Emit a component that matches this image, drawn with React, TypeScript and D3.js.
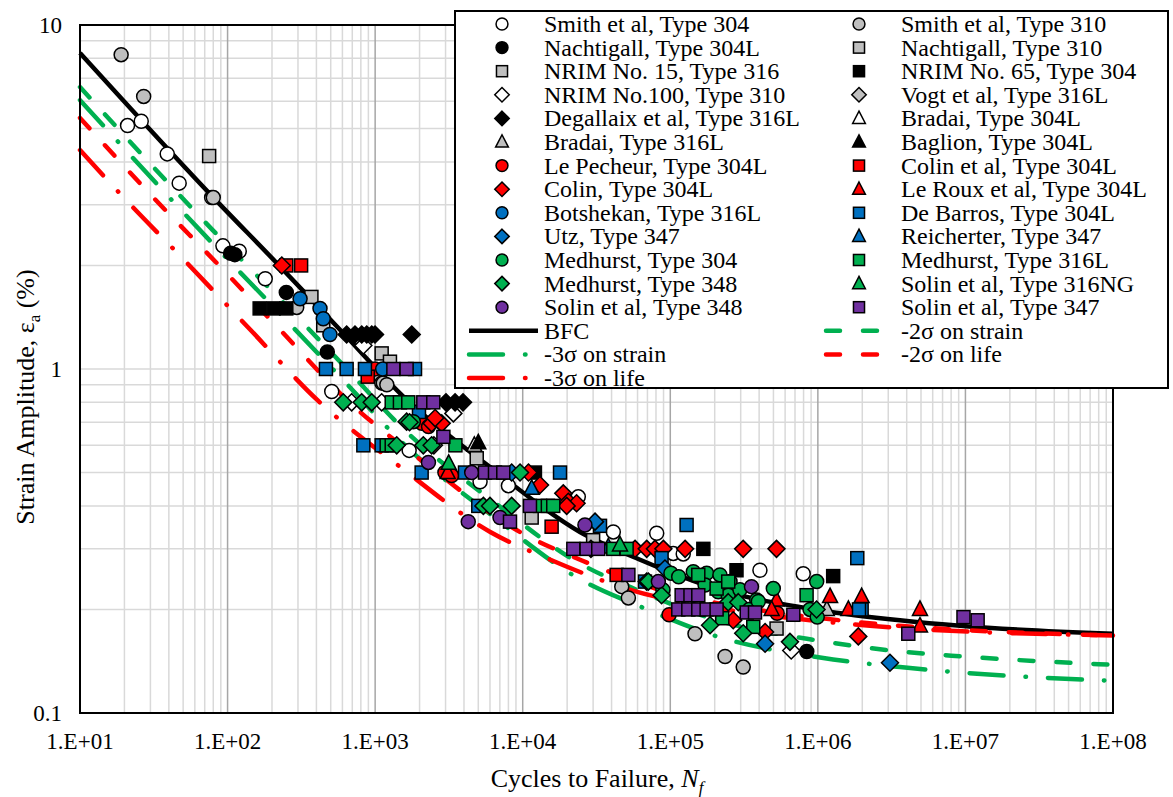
import React from 'react';
import * as d3 from 'd3';

// ---------- axis ticks ----------
const xTickValues = [1e1, 1e2, 1e3, 1e4, 1e5, 1e6, 1e7, 1e8];
const xTickLabels = ['1.E+01', '1.E+02', '1.E+03', '1.E+04', '1.E+05', '1.E+06', '1.E+07', '1.E+08'];
const yTickValues = [0.1, 1, 10];
const yTickLabels = ['0.1', '1', '10'];

// ---------- curves (N, strain %) ----------
const bfcN = [10, 79.6, 216, 578, 1640, 6000, 24400, 62400, 217000, 1035000, 3600000, 9600000, 1e8];
const bfcE = [8.29, 3.16, 2.03, 1.30, 0.813, 0.519, 0.336, 0.279, 0.228, 0.199, 0.186, 0.179, 0.170];
const sig2StrainE = [6.60, 2.53, 1.63, 1.05, 0.655, 0.419, 0.272, 0.226, 0.185, 0.162, 0.151, 0.146, 0.138];
const sig3StrainE = [6.05, 2.31, 1.48, 0.95, 0.593, 0.379, 0.245, 0.204, 0.166, 0.145, 0.136, 0.131, 0.124];
const sig2LifeN = [10, 31.2, 84.7, 227, 643, 2353, 9570, 24470, 85100, 406000, 1410000, 3760000, 1e8];
const sig2LifeE = [5.37, 3.16, 2.03, 1.30, 0.813, 0.519, 0.336, 0.279, 0.228, 0.199, 0.186, 0.179, 0.168];
const sig3LifeN = [10, 19.65, 53.3, 142.7, 405, 1481, 6025, 15400, 53580, 255600, 889000, 2370000, 1e8];
const sig3LifeE = [4.33, 3.16, 2.03, 1.30, 0.813, 0.519, 0.336, 0.279, 0.228, 0.199, 0.186, 0.179, 0.168];

// ---------- data series [N, strain %] ----------
const smith304 = [[21,5.1],[26,5.25],[39,4.22],[47,3.47],[78,3.15],[93,2.28],[120,2.2],[180,1.83],[508,0.86],[1110,0.91],[1700,0.58],[5140,0.47],[8000,0.458],[23800,0.425],[41100,0.336],[80900,0.333],[104700,0.291],[122400,0.29],[405000,0.26],[796000,0.254]];
const smith310 = [[19,8.2],[27,6.2],[80,3.15],[294,1.51],[1135,0.91],[1200,0.9],[46900,0.233],[52000,0.216],[147000,0.17],[235000,0.146],[312000,0.136]];
const nachtigall304L = [[105,2.17],[112,2.15],[250,1.67],[474,1.12],[841000,0.151]];
const nachtigall310 = [[75,4.16],[370,1.62],[445,1.34],[1107,1.11],[1260,1.05]];
const nrim15 = [[4880,0.55],[11500,0.37],[30000,0.318],[525000,0.176]];
const nrim65 = [[165,1.5],[205,1.5],[250,1.5],[12100,0.5],[167500,0.3],[281000,0.26],[1270000,0.25]];
const nrim100 = [[832,1.17],[693,0.8],[1107,0.8],[3390,0.743],[660000,0.152]];
const vogt316L = [[2500,0.6],[29000,0.3]];
const degallaix = [[641,1.26],[730,1.26],[811,1.26],[877,1.26],[948,1.26],[998,1.26],[1770,1.26],[3020,0.8],[3480,0.8],[3940,0.8]];
const bradai304L = [[4700,0.6]];
const bradai316L = [[1150000,0.2]];
const baglion = [[5000,0.61]];
const lePecheur = [[998,1.0],[2070,0.695],[2300,0.68],[2970,0.5],[3300,0.49],[98200,0.193],[530000,0.195]];
const colinEtAl = [[250,2.0],[315,2.0],[891,0.95],[15700,0.348],[43300,0.252]];
const colin = [[233,2.0],[2415,0.695],[2825,0.695],[2550,0.72],[10940,0.5],[13100,0.46],[18830,0.435],[20370,0.411],[23170,0.407],[19860,0.4],[57700,0.3],[69200,0.3],[78700,0.3],[89800,0.3],[126000,0.3],[311800,0.3],[524500,0.3],[1880000,0.167],[267000,0.186],[439000,0.172]];
const leRoux = [[1210000,0.218],[1980000,0.218],[1610000,0.2],[4920000,0.2],[4920000,0.179],[525000,0.213],[486000,0.2],[3100,0.5]];
const botshekan = [[310,1.6],[423,1.5],[445,1.4],[494,1.26],[1125,1.0]];
const deBarros = [[464,1.0],[641,1.0],[853,1.0],[1863,1.0],[832,0.6],[1107,0.6],[1982,0.75],[2066,0.5],[4063,0.5],[5000,0.4],[17900,0.5],[33400,0.35],[87300,0.282],[129000,0.352],[67400,0.241],[1850000,0.282],[1980000,0.2],[1900000,0.2]];
const utz = [[8415,0.5],[30900,0.36],[92000,0.263],[439000,0.159],[3080000,0.14]];
const reicherter = [[11500,0.45],[38000,0.304]];
const medhurst304 = [[1815,0.703],[101000,0.255],[114000,0.249],[143200,0.2575],[176500,0.2547],[217000,0.252],[254000,0.241],[211500,0.225],[247000,0.22],[296500,0.228],[385000,0.213],[499000,0.23],[982000,0.241],[885000,0.2],[340000,0.2],[172000,0.2355],[395000,0.211],[990000,0.19],[89100,0.228]];
const medhurst316L = [[1295,0.8],[1472,0.8],[1677,0.8],[1197,0.6],[1295,0.6],[3500,0.6],[13100,0.4],[14800,0.4],[16100,0.4],[41100,0.3],[50600,0.3],[154800,0.252],[206000,0.23],[247000,0.241],[365000,0.178],[839000,0.22],[225000,0.1886]];
const medhurst348 = [[608,0.8],[811,0.8],[948,0.8],[1634,0.703],[1710,0.7],[1400,0.6],[2120,0.6],[2415,0.6],[5412,0.4],[6000,0.4],[8415,0.4],[9590,0.5],[69200,0.241],[71000,0.241],[87300,0.22],[186000,0.18],[247000,0.21],[289000,0.21],[312000,0.1705],[647000,0.161],[980000,0.2]];
const solin316NG = [[3150,0.532],[45600,0.308]];
const solin348 = [[2297,0.535],[4510,0.5],[4275,0.36],[7015,0.37],[26400,0.352],[83000,0.241],[355000,0.233]];
const solin347 = [[1329,1.0],[1634,1.0],[2120,0.8],[2477,0.8],[2900,0.635],[5546,0.5],[6486,0.5],[7385,0.5],[11200,0.4],[8200,0.36],[22030,0.3],[27100,0.3],[32500,0.3],[52000,0.252],[119400,0.22],[137000,0.22],[154800,0.22],[113300,0.2],[132500,0.2],[154800,0.2],[176300,0.2],[206000,0.2],[329600,0.196],[375000,0.196],[682000,0.193],[4100000,0.17],[9700000,0.19],[12100000,0.186]];

// ---------- styles ----------
const WHITE = '#ffffff', GRAY = '#bfbfbf', BLACK = '#000000', RED = '#ff0000', BLUE = '#0070c0', GREEN = '#00b050', PURPLE = '#7030a0';

const markerSeries = [
  { name: 'Smith et al, Type 304', data: smith304, shape: 'circle', fill: WHITE },
  { name: 'Smith et al, Type 310', data: smith310, shape: 'circle', fill: GRAY },
  { name: 'Nachtigall, Type 304L', data: nachtigall304L, shape: 'circle', fill: BLACK },
  { name: 'Nachtigall, Type 310', data: nachtigall310, shape: 'square', fill: GRAY },
  { name: 'NRIM No. 15, Type 316', data: nrim15, shape: 'square', fill: GRAY },
  { name: 'NRIM No. 65, Type 304', data: nrim65, shape: 'square', fill: BLACK },
  { name: 'NRIM No.100, Type 310', data: nrim100, shape: 'diamond', fill: WHITE },
  { name: 'Vogt et al, Type 316L', data: vogt316L, shape: 'diamond', fill: GRAY },
  { name: 'Degallaix et al, Type 316L', data: degallaix, shape: 'diamond', fill: BLACK },
  { name: 'Bradai, Type 304L', data: bradai304L, shape: 'triangle', fill: WHITE },
  { name: 'Bradai, Type 316L', data: bradai316L, shape: 'triangle', fill: GRAY },
  { name: 'Baglion, Type 304L', data: baglion, shape: 'triangle', fill: BLACK },
  { name: 'Le Pecheur, Type 304L', data: lePecheur, shape: 'circle', fill: RED },
  { name: 'Colin et al, Type 304L', data: colinEtAl, shape: 'square', fill: RED },
  { name: 'Colin, Type 304L', data: colin, shape: 'diamond', fill: RED },
  { name: 'Le Roux et al, Type 304L', data: leRoux, shape: 'triangle', fill: RED },
  { name: 'Botshekan, Type 316L', data: botshekan, shape: 'circle', fill: BLUE },
  { name: 'De Barros, Type 304L', data: deBarros, shape: 'square', fill: BLUE },
  { name: 'Utz, Type 347', data: utz, shape: 'diamond', fill: BLUE },
  { name: 'Reicherter, Type 347', data: reicherter, shape: 'triangle', fill: BLUE },
  { name: 'Medhurst, Type 304', data: medhurst304, shape: 'circle', fill: GREEN },
  { name: 'Medhurst, Type 316L', data: medhurst316L, shape: 'square', fill: GREEN },
  { name: 'Medhurst, Type 348', data: medhurst348, shape: 'diamond', fill: GREEN },
  { name: 'Solin et al, Type 316NG', data: solin316NG, shape: 'triangle', fill: GREEN },
  { name: 'Solin et al, Type 348', data: solin348, shape: 'circle', fill: PURPLE },
  { name: 'Solin et al, Type 347', data: solin347, shape: 'square', fill: PURPLE },
];

const DASH = '14 23';
const DASHDOT = '34 22 0.5 22';

const lineSeries = [
  { name: 'BFC', N: bfcN, E: bfcE, color: BLACK, dash: null },
  { name: '-2σ on strain', N: bfcN, E: sig2StrainE, color: GREEN, dash: DASH },
  { name: '-3σ on strain', N: bfcN, E: sig3StrainE, color: GREEN, dash: DASHDOT },
  { name: '-2σ on life', N: sig2LifeN, E: sig2LifeE, color: RED, dash: DASH },
  { name: '-3σ on life', N: sig3LifeN, E: sig3LifeE, color: RED, dash: DASHDOT },
];

const W = 1173, H = 797;
const PL = 80, PR = 1113, PT = 25, PB = 713;
const FONT = '"Liberation Serif", "Times New Roman", serif';

function Marker({ shape, fill, cx, cy, s = 1 }) {
  const common = { fill, stroke: '#000', strokeWidth: 1.5 };
  if (shape === 'circle') return <circle cx={cx} cy={cy} r={7 * s} {...common} />;
  if (shape === 'square') return <rect x={cx - 6.5 * s} y={cy - 6.5 * s} width={13 * s} height={13 * s} {...common} />;
  if (shape === 'diamond') {
    const h = 8.5 * s;
    return <path d={`M${cx},${cy - h}L${cx + h},${cy}L${cx},${cy + h}L${cx - h},${cy}Z`} {...common} />;
  }
  const t = `M${cx},${cy - 8.5 * s}L${cx + 7.5 * s},${cy + 6 * s}L${cx - 7.5 * s},${cy + 6 * s}Z`;
  return <path d={t} {...common} />;
}

export default function App() {
  const x = d3.scaleLog().domain([10, 1e8]).range([PL, PR]);
  const y = d3.scaleLog().domain([0.1, 10]).range([PB, PT]);

  const minorX: number[] = [];
  const majorX: number[] = [];
  for (let d = 1; d < 8; d++) {
    for (let k = 1; k < 10; k++) {
      const v = k * Math.pow(10, d);
      if (k === 1) majorX.push(v); else minorX.push(v);
    }
  }
  const gridY: number[] = [];
  for (let d = -1; d < 1; d++) {
    for (let k = 1; k < 10; k++) gridY.push(k * Math.pow(10, d));
  }

  const lineGen = d3.line<[number, number]>()
    .x((d) => x(d[0]))
    .y((d) => y(d[1]))
    .curve(d3.curveMonotoneX);

  // legend items
  const legendItems = [
    ...markerSeries.map((s) => ({ kind: 'marker', ...s })),
    ...lineSeries.map((s) => ({ kind: 'line', ...s })),
  ];
  const rowY = (r: number) => 24 + 23.6 * r;
  const colMarkerX = [502, 859];
  const colTextX = [544, 901];

  return (
    <svg width={W} height={H} style={{ position: 'absolute', left: 0, top: 0, background: '#fff' }} fontFamily={FONT}>
      <rect x={0} y={0} width={W} height={H} fill="#fff" />
      {/* grid */}
      {gridY.map((v, i) => (
        <line key={'gy' + i} x1={PL} x2={PR} y1={y(v)} y2={y(v)} stroke="#d9d9d9" strokeWidth={1.5} />
      ))}
      {minorX.map((v, i) => (
        <line key={'gx' + i} x1={x(v)} x2={x(v)} y1={PT} y2={PB} stroke="#d9d9d9" strokeWidth={1.5} />
      ))}
      {majorX.map((v, i) => (
        <line key={'gX' + i} x1={x(v)} x2={x(v)} y1={PT} y2={PB} stroke="#a6a6a6" strokeWidth={1.5} />
      ))}

      {/* curves */}
      {lineSeries.map((s, i) => (
        <path key={'l' + i}
          d={lineGen(s.N.map((n, j) => [n, s.E[j]] as [number, number])) || ''}
          fill="none" stroke={s.color} strokeWidth={4.5}
          strokeDasharray={s.dash || undefined}
          strokeLinecap={s.dash ? 'round' : 'butt'} />
      ))}

      {/* markers */}
      {markerSeries.map((s, i) => (
        <g key={'m' + i}>
          {s.data.map((p, j) => (
            <Marker key={j} shape={s.shape} fill={s.fill} cx={x(p[0])} cy={y(p[1])} />
          ))}
        </g>
      ))}

      {/* plot border */}
      <rect x={PL} y={PT} width={PR - PL} height={PB - PT} fill="none" stroke="#000" strokeWidth={2} />

      {/* tick labels */}
      {xTickValues.map((v, i) => (
        <text key={'xt' + i} x={x(v)} y={749} fontSize={23} textAnchor="middle">{xTickLabels[i]}</text>
      ))}
      {yTickValues.map((v, i) => (
        <text key={'yt' + i} x={62} y={y(v) + 8} fontSize={23} textAnchor="end">{yTickLabels[i]}</text>
      ))}

      {/* axis titles */}
      <text x={597} y={787} fontSize={26} textAnchor="middle">
        Cycles to Failure, <tspan fontStyle="italic">N</tspan><tspan fontStyle="italic" fontSize={17} dy={6}>f</tspan>
      </text>
      <text transform="translate(34,397) rotate(-90)" fontSize={26} textAnchor="middle">
        Strain Amplitude, ε<tspan fontSize={17} dy={6}>a</tspan><tspan dy={-6}> (%)</tspan>
      </text>

      {/* legend */}
      <rect x={455} y={11} width={713} height={377} fill="#fff" stroke="#000" strokeWidth={2} />
      {legendItems.map((it: any, i) => {
        const row = Math.floor(i / 2);
        const col = i % 2;
        const cy = rowY(row);
        const mx = colMarkerX[col];
        return (
          <g key={'lg' + i}>
            {it.kind === 'marker' ? (
              <Marker shape={it.shape} fill={it.fill} cx={mx} cy={cy} s={0.85} />
            ) : (
              <line x1={mx - 33} x2={mx + 36} y1={cy} y2={cy} stroke={it.color} strokeWidth={4.5}
                strokeDasharray={it.dash || undefined} strokeLinecap={it.dash ? 'round' : 'butt'} />
            )}
            <text x={colTextX[col]} y={cy + 8} fontSize={24}>{it.name}</text>
          </g>
        );
      })}
    </svg>
  );
}
